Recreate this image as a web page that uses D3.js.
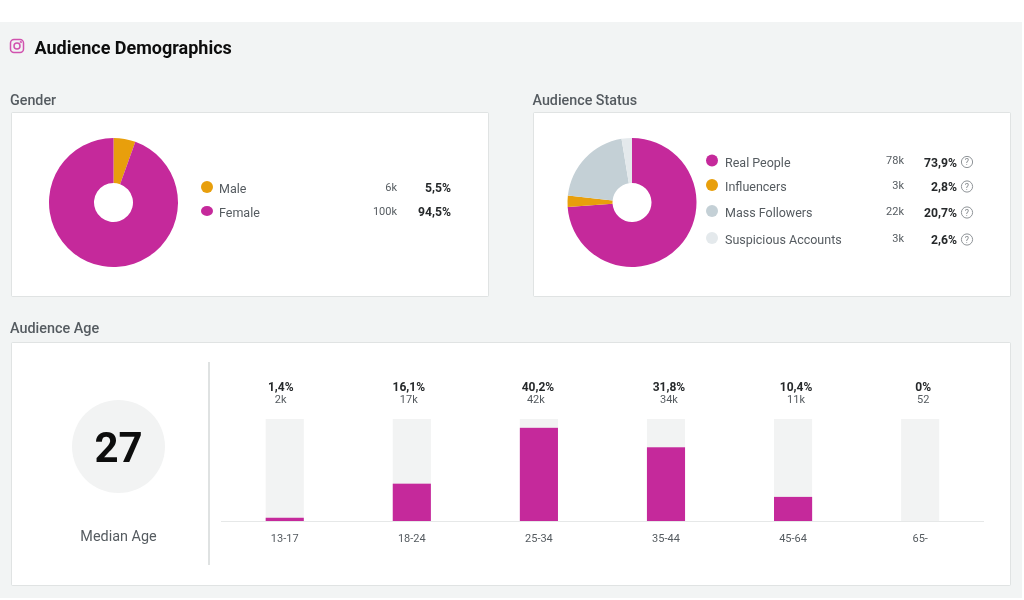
<!DOCTYPE html>
<html><head><meta charset="utf-8">
<script src="https://cdn.jsdelivr.net/npm/d3@7/dist/d3.min.js"></script>
<style>
html,body{margin:0;padding:0;background:#fff;overflow:hidden}
svg{display:block;filter:blur(.35px)}
text{font-family:Roboto,sans-serif}
</style></head><body>
<svg id="c" width="1024" height="600"></svg>
<script>
const genderLabels=["Male","Female"];
const genderCounts=["6k","100k"];
const genderPct=[5.5,94.5];
const statusLabels=["Real People","Influencers","Mass Followers","Suspicious Accounts"];
const statusCounts=["78k","3k","22k","3k"];
const statusPct=[73.9,2.8,20.7,2.6];
const ageLabels=["13-17","18-24","25-34","35-44","45-64","65-"];
const ageCounts=["2k","17k","42k","34k","11k","52"];
const agePct=[1.4,16.1,40.2,31.8,10.4,0];
const agePctLabels=["1,4%","16,1%","40,2%","31,8%","10,4%","0%"];
const ageMax=44;
const medianAge=27;
const genderColors=["#e89f0c","#c5299b"];
const statusColors=["#c5299b","#e89f0c","#c4d0d6","#e4e9ec"];

const svg=d3.select("#c");
const fmt=v=>d3.format(".1f")(v).replace(".",",")+"%";
svg.append("rect").attr("x",0).attr("y",22).attr("width",1022).attr("height",576).attr("fill","#f2f4f4");

function card(x,y,w,h){
  svg.append("rect").attr("x",x-1).attr("y",y-1).attr("width",w+2).attr("height",h+2).attr("rx",2).attr("fill","#e0e3e3");
  svg.append("rect").attr("x",x).attr("y",y).attr("width",w).attr("height",h).attr("fill","#fff");
}
function label(t,x,y,o={}){
  return svg.append("text").attr("x",x).attr("y",y).text(t)
    .attr("font-size",o.size||12).attr("font-weight",o.weight||400)
    .attr("fill",o.fill||"#555b60").attr("text-anchor",o.anchor||"start");
}
// header
const ig=svg.append("g").attr("fill","none").attr("stroke","#d152ae").attr("stroke-width",1.5);
ig.append("rect").attr("x",10.5).attr("y",39.5).attr("width",13).attr("height",13).attr("rx",3.5);
ig.append("circle").attr("cx",17).attr("cy",46).attr("r",3);
ig.append("circle").attr("cx",20.8).attr("cy",42.2).attr("r",.4);
label("Audience Demographics",34.5,53.5,{size:18,weight:700,fill:"#0d0d0d"});

label("Gender",10,104.5,{size:14.3,weight:500});
label("Audience Status",532.5,104.5,{size:14.3,weight:500});
label("Audience Age",10,333,{size:14.4,weight:500});
card(12,113,476,183);
card(534,113,476,183);
card(12,343,998,242);

function donut(values,colors,cx,cy,r,ri){
  const pie=d3.pie().sort(null)(values);
  const arc=d3.arc().innerRadius(ri).outerRadius(r);
  svg.append("g").attr("transform",`translate(${cx},${cy})`)
    .selectAll("path").data(pie).join("path").attr("d",arc).attr("fill",(d,i)=>colors[i]);
}
donut(genderPct,genderColors,113.5,202.5,64.5,19.5);
donut(statusPct,statusColors,632,202.5,64.5,19.5);

// gender legend
const genderRowY=[188,212];
genderLabels.forEach((t,i)=>{
  const y=genderRowY[i];
  svg.append("ellipse").attr("cx",207).attr("cy",y-1).attr("rx",6).attr("ry",i?5:6).attr("fill",genderColors[i]);
  label(t,219,y+4.5,{size:12.5});
  label(genderCounts[i],397,y+2.5,{size:11,anchor:"end"});
  label(fmt(genderPct[i]),451,y+4,{size:12.2,weight:700,fill:"#26292b",anchor:"end"});
});
// status legend
const statusRowY=[161,185.5,211.5,238.5];
statusLabels.forEach((t,i)=>{
  const y=statusRowY[i];
  svg.append("circle").attr("cx",712).attr("cy",y-.5).attr("r",6).attr("fill",statusColors[i]);
  label(t,725,y+5.5,{size:12.5});
  label(statusCounts[i],904,y+3,{size:11,anchor:"end"});
  label(fmt(statusPct[i]),957,y+5.5,{size:12.2,weight:700,fill:"#26292b",anchor:"end"});
  svg.append("circle").attr("cx",967).attr("cy",y+1).attr("r",5.6).attr("fill","none").attr("stroke","#8f9498").attr("stroke-width",1);
  label("?",967,y+4.3,{size:9,anchor:"middle",fill:"#83888c"});
});

// median
svg.append("circle").attr("cx",118.5).attr("cy",446.5).attr("r",46.5).attr("fill","#f2f3f3");
label(String(medianAge),118.5,462,{size:42,weight:700,fill:"#0d0d0d",anchor:"middle"});
label("Median Age",118.5,541,{size:14.4,anchor:"middle"});
svg.append("line").attr("x1",209).attr("x2",209).attr("y1",362).attr("y2",565).attr("stroke","#dfe2e2").attr("stroke-width",2);

// bars
const x=d3.scaleBand().domain(ageLabels).range([221.2,983.7]).paddingInner(.7).paddingOuter(.35);
const y=d3.scaleLinear().domain([0,ageMax]).range([521,419]);
const bw=x.bandwidth();
const headOffset=[-4,-3,-1,3,3,3];
svg.append("line").attr("x1",221).attr("x2",984).attr("y1",521.5).attr("y2",521.5).attr("stroke","#e6e8e8");
svg.append("g").selectAll("rect").data(ageLabels).join("rect")
  .attr("x",d=>x(d)).attr("width",bw).attr("y",y(ageMax)).attr("height",y(0)-y(ageMax)).attr("fill","#f2f3f3");
svg.append("g").selectAll("rect").data(agePct).join("rect")
  .attr("x",(d,i)=>x(ageLabels[i])).attr("width",bw).attr("y",d=>y(d)).attr("height",d=>y(0)-y(d)).attr("fill","#c5299b");
ageLabels.forEach((t,i)=>{
  const cx=x(t)+bw/2;
  label(agePctLabels[i],cx+headOffset[i],391,{size:12,weight:700,fill:"#26292b",anchor:"middle"});
  label(ageCounts[i],cx+headOffset[i]-(i==2?2:0),403,{size:11,anchor:"middle"});
  label(t,cx,542,{size:11,anchor:"middle"});
});
</script></body></html>
